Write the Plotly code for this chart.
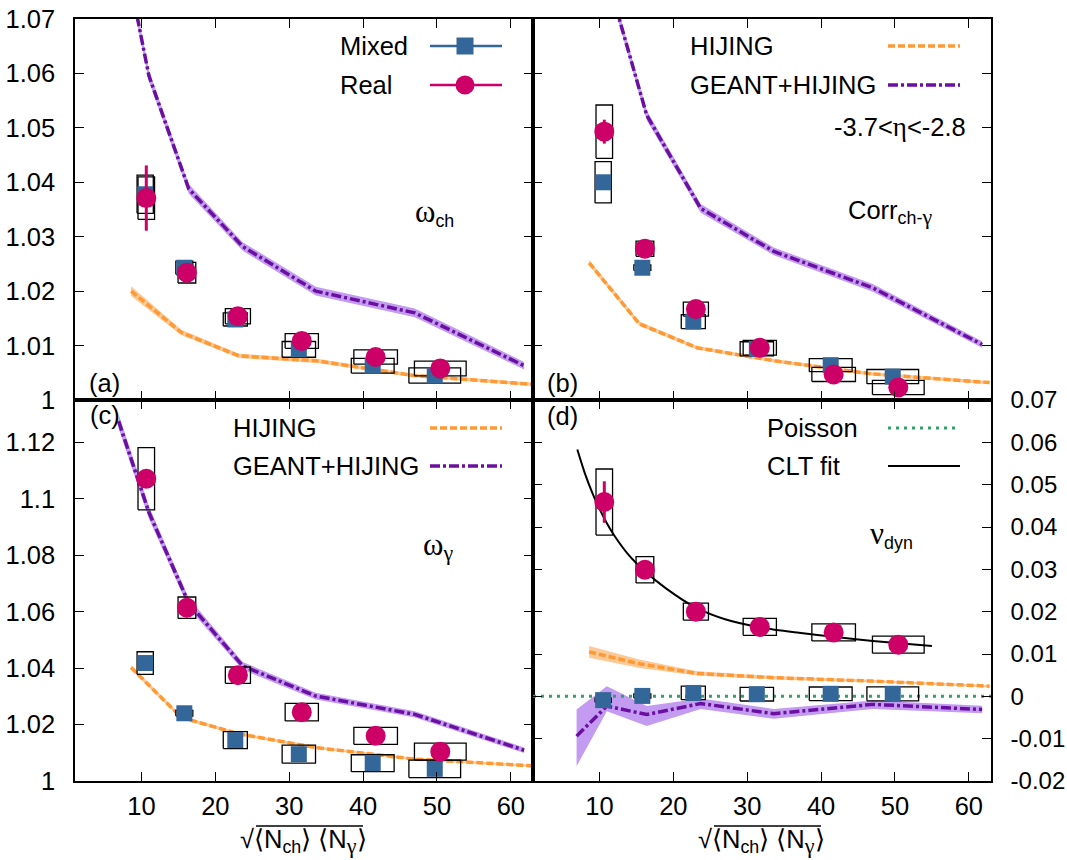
import plotly.graph_objects as go

# ---------------- data ----------------
x_mixed = [10.5, 15.8, 22.7, 31.3, 41.3, 49.7]
x_real = [10.65, 16.15, 23.05, 31.7, 41.7, 50.45]
xw_mixed = [1.1, 1.15, 1.63, 2.26, 2.9, 3.5]
xw_real = [1.12, 1.2, 1.7, 2.25, 2.95, 3.5]

# (a) omega_ch
mixed_a = [1.0378, 1.0243, 1.0148, 1.0093, 1.0063, 1.0045]
mixed_a_sys = [0.0035, 0.0012, 0.0012, 0.00145, 0.00135, 0.0014]
real_a = [1.0371, 1.0234, 1.0154, 1.01085, 1.0079, 1.0058]
real_a_sys = [0.0039, 0.0019, 0.0014, 0.00135, 0.0013, 0.00135]
real_a_err = [0.006, 0.0012, 0.0005, 0.0004, 0.0003, 0.0003]

# (b) Corr ch-gamma
mixed_b = [1.0400, 1.0243, 1.0144, 1.0094, 1.0064, 1.0043]
mixed_b_sys = [0.0038, 0.0005, 0.0013, 0.0013, 0.0012, 0.0013]
real_b = [1.0493, 1.0278, 1.0167, 1.0096, 1.0047, 1.0023]
real_b_sys = [0.0049, 0.0014, 0.0013, 0.00135, 0.0013, 0.0013]
real_b_err = [0.0022, 0.0008, 0.0004, 0.0003, 0.0003, 0.0003]

# (c) omega_gamma
mixed_c = [1.0418, 1.0240, 1.0145, 1.0095, 1.0063, 1.0043]
mixed_c_sys = [0.0040, 0.0010, 0.0030, 0.0032, 0.0030, 0.0031]
real_c = [1.1071, 1.0614, 1.0375, 1.0244, 1.0160, 1.0104]
real_c_sys = [0.011, 0.0038, 0.0029, 0.0031, 0.0030, 0.0030]
real_c_err = [0.002, 0.001, 0.0005, 0.0005, 0.0005, 0.0005]

# (d) nu_dyn
mixed_d = [-0.0009, 0.0001, 0.0008, 0.0005, 0.0006, 0.0006]
mixed_d_sys = [0.0005, 0.0005, 0.0016, 0.0016, 0.0016, 0.00165]
real_d = [0.0459, 0.0299, 0.0200, 0.0164, 0.0151, 0.0122]
real_d_sys = [0.0078, 0.0031, 0.0020, 0.0020, 0.0020, 0.0020]
real_d_err = [0.0049, 0.0008, 0.0004, 0.0003, 0.0003, 0.0003]

# simulations
x_geant = [6.9, 11.0, 16.4, 23.7, 33.6, 47.0, 61.8]
x_hijing = [8.6, 15.4, 23.2, 33.7, 46.8, 62.8]

geant_a = [1.0876, 1.0596, 1.0388, 1.0282, 1.0200, 1.0160, 1.0063]
geant_a_hw = [0.0015, 0.0010, 0.0009, 0.0008, 0.0008, 0.0008, 0.0007]
hijing_a = [1.0200, 1.0124, 1.0081, 1.0072, 1.0045, 1.0029]
hijing_a_hw = [0.0009, 0.0005, 0.0004, 0.0004, 0.0003, 0.0003]

geant_b = [1.110, 1.078, 1.0523, 1.0352, 1.0273, 1.0206, 1.0102]
geant_b_hw = [0.0010, 0.0010, 0.0009, 0.0008, 0.0007, 0.0007, 0.0006]
hijing_b = [1.0252, 1.0140, 1.0096, 1.0072, 1.0048, 1.0032]
hijing_b_hw = [0.0005, 0.0004, 0.0003, 0.0003, 0.0003, 0.0003]

geant_c = [1.1275, 1.0952, 1.0630, 1.0408, 1.0301, 1.0236, 1.0109]
geant_c_hw = [0.0025, 0.0022, 0.0018, 0.0014, 0.0012, 0.0011, 0.0010]
hijing_c = [1.0402, 1.0225, 1.0167, 1.0118, 1.0078, 1.0054]
hijing_c_hw = [0.0008, 0.0006, 0.0005, 0.0005, 0.0004, 0.0004]

geant_d = [-0.0094, -0.0023, -0.0043, -0.0017, -0.0041, -0.0019, -0.0031]
geant_d_lo = [-0.0165, -0.0035, -0.0070, -0.0030, -0.0053, -0.0030, -0.0040]
geant_d_hi = [-0.0031, 0.0024, -0.0023, -0.0005, -0.0030, -0.0010, -0.0022]
hijing_d = [0.0105, 0.0077, 0.0054, 0.0044, 0.0036, 0.0024]
hijing_d_hw = [0.0014, 0.0010, 0.0005, 0.0004, 0.0003, 0.0003]

x_poisson = [1, 63]
y_poisson = [0.0, 0.0]

x_clt = [7.0, 8.0, 9.0, 10.0, 11.0, 12.0, 14.0, 16.0, 19.0, 23.0, 27.0, 32.0, 37.0, 42.0, 47.0, 55.0]
y_clt = [0.0583, 0.0528, 0.0482, 0.0443, 0.0409, 0.0380, 0.0333, 0.0298, 0.0255, 0.0210,
         0.0182, 0.0162, 0.0150, 0.0140, 0.0131, 0.0119]

x_ticks = [10, 20, 30, 40, 50, 60]
y_ticks_a = [1.0, 1.01, 1.02, 1.03, 1.04, 1.05, 1.06, 1.07]
y_text_a = ["1", "1.01", "1.02", "1.03", "1.04", "1.05", "1.06", "1.07"]
y_ticks_c = [1.0, 1.02, 1.04, 1.06, 1.08, 1.10, 1.12]
y_text_c = ["1", "1.02", "1.04", "1.06", "1.08", "1.1", "1.12"]
y_ticks_d = [-0.02, -0.01, 0.0, 0.01, 0.02, 0.03, 0.04, 0.05, 0.06, 0.07]
y_text_d = ["-0.02", "-0.01", "0", "0.01", "0.02", "0.03", "0.04", "0.05", "0.06", "0.07"]

# ---------------- style ----------------
FONT = "Liberation Sans, Arial, Helvetica, sans-serif"
GREEK = "Liberation Serif, DejaVu Serif, serif"
FS = 25.5
FS_TICK_R = 24
C_MIX = "#336699"
C_REAL = "#cc0066"
C_HIJ = "#ff9933"
C_HIJ_BAND = "#fcc997"
C_GEA = "#6a0fa0"
C_GEA_BAND = "#c39bf0"
C_POIS = "#33a066"
DASH_HIJ = "7px,3px"
DASH_GEA = "10px,3px,3px,3px"

W, H = 1067, 860
ML, MR, MT, MB = 75, 76, 19, 79

fig = go.Figure()

panels = [
    dict(xa="x", ya="y", mixed=mixed_a, msys=mixed_a_sys, real=real_a, rsys=real_a_sys, rerr=real_a_err,
         geant=geant_a, glo=[v - h for v, h in zip(geant_a, geant_a_hw)], ghi=[v + h for v, h in zip(geant_a, geant_a_hw)],
         hij=hijing_a, hhw=hijing_a_hw),
    dict(xa="x2", ya="y2", mixed=mixed_b, msys=mixed_b_sys, real=real_b, rsys=real_b_sys, rerr=real_b_err,
         geant=geant_b, glo=[v - h for v, h in zip(geant_b, geant_b_hw)], ghi=[v + h for v, h in zip(geant_b, geant_b_hw)],
         hij=hijing_b, hhw=hijing_b_hw),
    dict(xa="x3", ya="y3", mixed=mixed_c, msys=mixed_c_sys, real=real_c, rsys=real_c_sys, rerr=real_c_err,
         geant=geant_c, glo=[v - h for v, h in zip(geant_c, geant_c_hw)], ghi=[v + h for v, h in zip(geant_c, geant_c_hw)],
         hij=hijing_c, hhw=hijing_c_hw),
    dict(xa="x4", ya="y4", mixed=mixed_d, msys=mixed_d_sys, real=real_d, rsys=real_d_sys, rerr=real_d_err,
         geant=geant_d, glo=geant_d_lo, ghi=geant_d_hi,
         hij=hijing_d, hhw=hijing_d_hw),
]


def box_path(xc, yc, xw, yh):
    xs, ys = [], []
    for x, y, w, h in zip(xc, yc, xw, yh):
        xs += [x - w, x + w, x + w, x - w, x - w, None]
        ys += [y - h, y - h, y + h, y + h, y - h, None]
    return xs, ys


for i, p in enumerate(panels):
    xa, ya = p["xa"], p["ya"]
    hlo = [v - h for v, h in zip(p["hij"], p["hhw"])]
    hhi = [v + h for v, h in zip(p["hij"], p["hhw"])]
    fig.add_trace(go.Scatter(x=x_hijing + x_hijing[::-1], y=hhi + hlo[::-1], fill="toself",
                             fillcolor=C_HIJ_BAND, line=dict(width=0), mode="lines",
                             hoverinfo="skip", showlegend=False, xaxis=xa, yaxis=ya))
    fig.add_trace(go.Scatter(x=x_geant + x_geant[::-1], y=p["ghi"] + p["glo"][::-1], fill="toself",
                             fillcolor=C_GEA_BAND, line=dict(width=0), mode="lines",
                             hoverinfo="skip", showlegend=False, xaxis=xa, yaxis=ya))
    fig.add_trace(go.Scatter(x=x_hijing, y=p["hij"], mode="lines",
                             line=dict(color=C_HIJ, width=3.5, dash=DASH_HIJ),
                             showlegend=False, xaxis=xa, yaxis=ya))
    fig.add_trace(go.Scatter(x=x_geant, y=p["geant"], mode="lines",
                             line=dict(color=C_GEA, width=3.5, dash=DASH_GEA),
                             showlegend=False, xaxis=xa, yaxis=ya))
    if i == 3:
        fig.add_trace(go.Scatter(x=x_poisson, y=y_poisson, mode="lines",
                                 line=dict(color=C_POIS, width=3, dash="3px,5px"),
                                 showlegend=False, xaxis=xa, yaxis=ya))
        fig.add_trace(go.Scatter(x=x_clt, y=y_clt, mode="lines",
                                 line=dict(color="black", width=2, shape="spline", smoothing=0.8),
                                 showlegend=False, xaxis=xa, yaxis=ya))
    bx, by = box_path(x_mixed, p["mixed"], xw_mixed, p["msys"])
    fig.add_trace(go.Scatter(x=bx, y=by, mode="lines", line=dict(color="black", width=1.3),
                             showlegend=False, xaxis=xa, yaxis=ya))
    bx, by = box_path(x_real, p["real"], xw_real, p["rsys"])
    fig.add_trace(go.Scatter(x=bx, y=by, mode="lines", line=dict(color="black", width=1.3),
                             showlegend=False, xaxis=xa, yaxis=ya))
    fig.add_trace(go.Scatter(x=x_mixed, y=p["mixed"], mode="markers",
                             marker=dict(symbol="square", size=16, color=C_MIX, line=dict(width=0)),
                             showlegend=False, xaxis=xa, yaxis=ya))
    fig.add_trace(go.Scatter(x=x_real, y=p["real"], mode="markers",
                             marker=dict(symbol="circle", size=20, color=C_REAL, line=dict(width=0)),
                             error_y=dict(type="data", array=p["rerr"], color=C_REAL, thickness=3, width=0),
                             showlegend=False, xaxis=xa, yaxis=ya))

# ---------------- axes ----------------
common = dict(showline=True, linecolor="black", linewidth=1.5, mirror="ticks", ticks="inside",
              ticklen=9, tickwidth=1.2, tickcolor="black", showgrid=False, zeroline=False,
              automargin=False, tickfont=dict(size=FS, family=FONT, color="black"))

xcommon = dict(common, range=[1, 63], tickmode="array", tickvals=x_ticks)

fig.update_layout(
    width=W, height=H, margin=dict(l=ML, r=MR, t=MT, b=MB, autoexpand=False),
    paper_bgcolor="white", plot_bgcolor="white", showlegend=False,
    font=dict(family=FONT, size=FS, color="black"),
    xaxis=dict(xcommon, domain=[0, 0.5], anchor="y", showticklabels=False),
    yaxis=dict(common, domain=[0.5, 1], anchor="x", range=[1, 1.07], tickmode="array",
               tickvals=y_ticks_a, ticktext=y_text_a, ticklabelstandoff=13),
    xaxis2=dict(xcommon, domain=[0.5, 1], anchor="y2", showticklabels=False),
    yaxis2=dict(common, domain=[0.5, 1], anchor="x2", range=[1, 1.07], tickmode="array",
                tickvals=y_ticks_a, showticklabels=False),
    xaxis3=dict(xcommon, domain=[0, 0.5], anchor="y3", ticklabelstandoff=2),
    yaxis3=dict(common, domain=[0, 0.5], anchor="x3", range=[1, 1.135], tickmode="array",
                tickvals=y_ticks_c, ticktext=y_text_c, ticklabelstandoff=13),
    xaxis4=dict(xcommon, domain=[0.5, 1], anchor="y4", ticklabelstandoff=2),
    yaxis4=dict(common, domain=[0, 0.5], anchor="x4", side="right", range=[-0.02, 0.07],
                tickmode="array", tickvals=y_ticks_d, ticktext=y_text_d, ticklabelstandoff=13,
                tickfont=dict(size=FS_TICK_R, family=FONT, color="black")),
)

# ---------------- legends & labels (pixel placement) ----------------
PW, PH = W - ML - MR, H - MT - MB


def px(x):
    return (x - ML) / PW


def py(y):
    return (H - MB - y) / PH


def text(x, y, s, xanchor="left", size=FS):
    fig.add_annotation(x=px(x), y=py(y), xref="paper", yref="paper", text=s, showarrow=False,
                       xanchor=xanchor, yanchor="middle", font=dict(size=size, family=FONT, color="black"))


def key_line(x0, x1, y, color, width, dash="solid"):
    fig.add_shape(type="line", xref="paper", yref="paper", x0=px(x0), x1=px(x1), y0=py(y), y1=py(y),
                  line=dict(color=color, width=width, dash=dash))


def key_marker(x, y, kind, color, s):
    fig.add_shape(type=kind, xref="paper", yref="paper", xsizemode="pixel", ysizemode="pixel",
                  xanchor=px(x), yanchor=py(y), x0=-s / 2, x1=s / 2, y0=-s / 2, y1=s / 2,
                  fillcolor=color, line=dict(width=0))


def g(s, size=31):
    return '<span style="font-family:%s;font-size:%dpx">%s</span>' % (GREEK, size, s)


# (a)
text(338, 46, "Mixed")
text(338, 85, "Real")
key_line(430, 502, 46, C_MIX, 2.5)
key_marker(465, 46, "rect", C_MIX, 17)
key_line(430, 502, 85, C_REAL, 2.5)
key_marker(465, 85, "circle", C_REAL, 19)
text(413, 213, g("ω") + "<sub>ch</sub>")
text(87, 383, "(a)")
# (b)
text(688, 46, "HIJING")
text(688, 85, "GEANT+HIJING")
key_line(888, 960, 46, C_HIJ, 3.5, DASH_HIJ)
key_line(888, 960, 85, C_GEA, 3.5, DASH_GEA)
text(968, 127, "-3.7<" + g("η", 27) + "<-2.8", xanchor="right")
text(846, 212, "Corr<sub>ch-" + g("γ", 22) + "</sub>")
text(545, 383, "(b)")
# (c)
text(231, 428, "HIJING")
text(231, 466, "GEANT+HIJING")
key_line(430, 502, 428, C_HIJ, 3.5, DASH_HIJ)
key_line(430, 502, 466, C_GEA, 3.5, DASH_GEA)
text(421, 546, g("ω") + "<sub>" + g("γ", 22) + "</sub>")
text(88, 415, "(c)")
# (d)
text(765, 428, "Poisson")
text(765, 466, "CLT fit")
key_line(888, 960, 428, C_POIS, 3, "3px,5px")
key_line(888, 960, 466, "black", 2)
text(868, 534, g("ν") + "<sub>dyn</sub>")
text(545, 416, "(d)")

# x-axis titles
xt = "√⟨N<sub>ch</sub>⟩ ⟨N<sub>" + g("γ", 22) + "</sub>⟩"
text(303, 841, xt, xanchor="center")
text(761, 841, xt, xanchor="center")
fig.add_shape(type="line", xref="paper", yref="paper", x0=px(256), x1=px(363), y0=py(826), y1=py(826),
              line=dict(color="black", width=1.3))
fig.add_shape(type="line", xref="paper", yref="paper", x0=px(714), x1=px(821), y0=py(826), y1=py(826),
              line=dict(color="black", width=1.3))

# remove the default 8px page margin so the figure fills the window exactly
fig.write_html("out.html", config={"displayModeBar": False},
               post_script="document.body.style.margin='0';document.body.style.overflow='hidden';")
